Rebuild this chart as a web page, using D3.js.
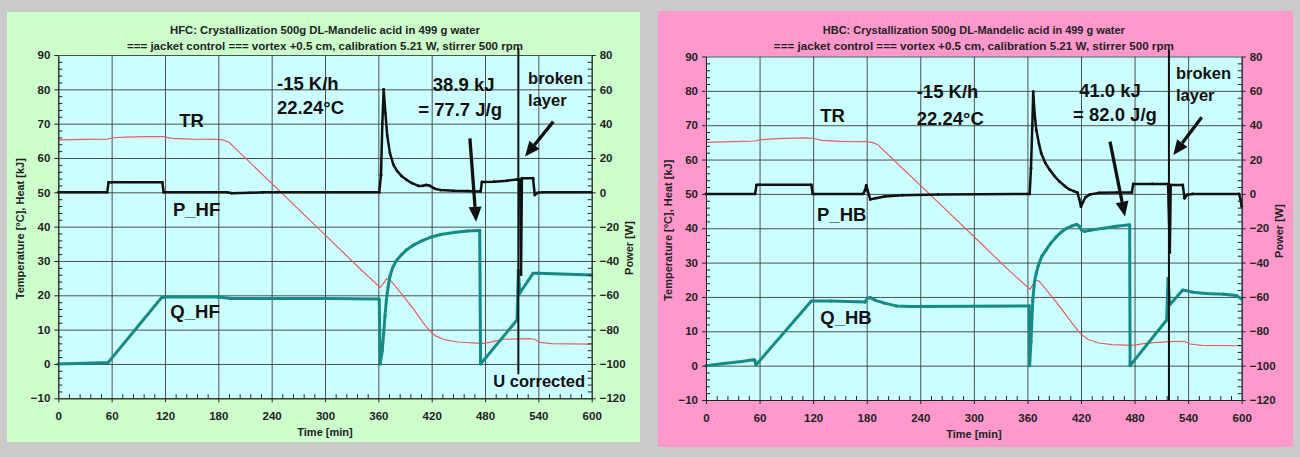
<!DOCTYPE html>
<html>
<head>
<meta charset="utf-8">
<script src="https://cdn.jsdelivr.net/npm/d3@7"></script>
<style>
  html, body { margin: 0; padding: 0; background: #cacaca; }
  svg { display: block; }
</style>
</head>
<body>
<svg id="chart" width="1300" height="457"></svg>
<script>
// ---- axis ticks ----
const timeTicks  = [0, 60, 120, 180, 240, 300, 360, 420, 480, 540, 600];
const tempTicks  = [-10, 0, 10, 20, 30, 40, 50, 60, 70, 80, 90];
const powerTicks = [-120, -100, -80, -60, -40, -20, 0, 20, 40, 60, 80];

// ---- HFC run: [time min, value] ----
const trHF = [[0,65.3],[30,65.4],[55,65.5],[62,65.9],[75,66.1],[100,66.2],[118,66.2],[128,65.7],[150,65.5],
  [180,65.4],[186,65.2],[192,64.6],[200,62.6],[252,49.6],[300,37.6],[340,27.6],[362,22.3],[365,23.2],
  [369,24.8],[373,24.5],[380,22.4],[390,19.2],[400,15.8],[410,12.2],[418,9.6],[425,8.1],[435,7.0],
  [450,6.4],[470,6.1],[480,6.0],[490,6.6],[500,7.2],[530,7.4],[536,7.2],[542,6.3],[555,5.9],[600,5.8]];
const pHF = [[0,0],[55,0],[56.5,5.8],[60,5.8],[117,5.8],[118.5,0],[190,0],[195,-0.5],[215,-0.3],[230,0],
  [361,0],[363,10],[364.5,40],[366,60],[368,46],[370,33],[373,23],[377,16],[381,12.5],[386,9.5],[392,7.2],
  [398,5.3],[405,3.7],[410,3.8],[414,4.3],[418,3.8],[424,2],[430,1.3],[445,0.9],[460,0.7],[475,0.5],
  [476.5,6],[490,6.2],[505,6.8],[516,7.4],[519.5,7.4],[520.5,-48],[521.5,8.2],[534,8.2],[536,-1.6],
  [539,-0.3],[545,0],[600,0]];
const qHF = [[0,0],[30,0.2],[56,0.4],[116,19.3],[120,19.5],[180,19.5],[195,19.1],[300,19.1],[361,18.9],
  [362,0],[364.5,4],[366,9],[367.5,14],[369,18.5],[371,22.5],[373,25.5],[376,28],[380,30],[386,31.8],
  [392,33.3],[400,34.7],[410,36],[420,37],[430,37.7],[445,38.3],[460,38.7],[474,38.9],[475,0],
  [516,12.8],[517.5,27.3],[519,20.6],[534,26.4],[540,26.4],[600,25.9]];

// ---- HBC run: [time min, value] ----
const trHB = [[0,65.0],[30,65.2],[55,65.4],[62,65.8],[80,66.1],[110,66.3],[120,66.2],[130,65.6],[150,65.3],
  [180,65.2],[186,65.0],[192,64.4],[200,62.4],[251,49.8],[300,37.6],[340,27.6],[363,22.2],[366,23.5],
  [369,24.9],[373,24.6],[380,22.4],[390,19.3],[400,15.9],[410,12.4],[419,9.4],[428,7.6],[440,6.6],
  [455,6.1],[470,6.0],[480,6.0],[490,6.4],[505,6.8],[520,7.0],[536,7.1],[542,6.3],[555,5.9],[600,5.8]];
const pHB = [[0,0],[55,0],[56.5,5.2],[60,5.3],[118,5.3],[119.5,0],[176,0],[178,2],[179.5,5],[181,2],
  [184,-3.2],[190,-2.5],[200,-1.5],[220,-0.8],[260,-0.3],[362.5,0],[364,15],[365.5,40],[366.5,59.5],
  [368,47],[370,37],[373,29],[375.5,23.6],[380,18],[385,14],[390,10.5],[396,7.2],[402,4.5],[407,2.6],
  [412,1.6],[416,0.8],[418,-3],[420,-7.5],[422,-5],[425,-2],[430,-0.3],[440,0.6],[460,0.8],[477,0.8],
  [478.5,5.8],[500,5.8],[517.5,5.8],[519.5,-34],[520.5,5.2],[534,5.2],[536,-2.6],[539,-0.5],[545,0],
  [597,0],[598.5,-3],[600,-7.4]];
const qHB = [[0,0],[20,0.6],[40,1.2],[53,1.7],[54.5,1.6],[56,0.2],[118,18.8],[140,18.8],[170,18.6],
  [178,18.5],[181,19.7],[184,19.8],[190,19.0],[200,18.2],[213,17.4],[230,17.2],[300,17.3],[362,17.4],
  [362.5,0],[364,7],[366,19],[368,24.5],[370,27],[372,29],[376,31.8],[381,33.7],[386,35.6],[392,37.4],
  [398,38.9],[404,40.0],[410,40.7],[415,41.1],[418,40.6],[421,39.4],[424,39.1],[430,39.4],[445,40.0],
  [460,40.6],[474.5,41.0],[475,0],[516,13.3],[517.5,25.4],[519.5,17.7],[534,22.0],[545,21.4],[560,21.0],
  [580,20.8],[594,20.4],[600,19.4]];

const FONT = '"Liberation Sans", Arial, Helvetica, sans-serif';

// Panel layouts; annotation anchors are given in data units [time, °C/kJ]
const panels = [
  {
    bg: '#ccffcc', box: [7, 12, 640, 442], plot: [58.3, 55, 591.7, 398.3],
    title: ['HFC: Crystallization 500g DL-Mandelic acid  in 499 g water',
            '=== jacket control === vortex +0.5 cm, calibration 5.21 W, stirrer 500 rpm'],
    titleWidth: [310, 396],
    tr: trHF, p: pHF, q: qHF,
    powerLabelY: 248,
    labels: [
      {t: 150, v: 70.8, text: 'TR', size: 18.5, anchor: 'middle'},
      {t: 155.5, v: 44.9, text: 'P_HF', size: 18.5, anchor: 'middle'},
      {t: 153.8, v: 15.4, text: 'Q_HF', size: 18.5, anchor: 'middle'},
      {t: 246, v: 81.8, text: '-15 K/h', size: 18.5, anchor: 'start'},
      {t: 246, v: 74.6, text: '22.24°C', size: 18.5, anchor: 'start'},
      {t: 456, v: 81.3, text: '38.9 kJ', size: 18.5, anchor: 'middle'},
      {t: 452, v: 74.0, text: '= 77.7 J/g', size: 18.5, anchor: 'middle'},
      {t: 528.4, v: 83.2, text: 'broken', size: 16.5, anchor: 'start'},
      {t: 528.4, v: 76.9, text: 'layer', size: 16.5, anchor: 'start'},
      {t: 489.3, v: -4.9, text: 'U corrected', size: 16.5, anchor: 'start'}
    ],
    arrows: [
      {from: [463, 65.7], to: [470, 41.4]},
      {from: [556.8, 70.6], to: [525, 60.4]}
    ],
    marker: {t: 517.5, vEnd: -3}
  },
  {
    bg: '#ff99cc', box: [658, 11, 1293, 447], plot: [706, 56.5, 1241.7, 400],
    title: ['HBC: Crystallization 500g DL-Mandelic acid in 499 g water',
            '=== jacket control ===  vortex +0.5 cm, calibration 5.21 W, stirrer 500 rpm'],
    titleWidth: [302, 400],
    tr: trHB, p: pHB, q: qHB,
    powerLabelY: 231,
    labels: [
      {t: 141.7, v: 72.7, text: 'TR', size: 18.5, anchor: 'middle'},
      {t: 152, v: 43.9, text: 'P_HB', size: 18.5, anchor: 'middle'},
      {t: 156.8, v: 14.0, text: 'Q_HB', size: 18.5, anchor: 'middle'},
      {t: 236, v: 79.75, text: '-15 K/h', size: 18.5, anchor: 'start'},
      {t: 236, v: 72.0, text: '22.24°C', size: 18.5, anchor: 'start'},
      {t: 452.5, v: 80.2, text: '41.0 kJ', size: 18.5, anchor: 'middle'},
      {t: 458, v: 73.0, text: '= 82.0 J/g', size: 18.5, anchor: 'middle'},
      {t: 526.4, v: 85.1, text: 'broken', size: 16.5, anchor: 'start'},
      {t: 526.4, v: 78.8, text: 'layer', size: 16.5, anchor: 'start'}
    ],
    arrows: [
      {from: [452.5, 65.2], to: [469.3, 43.4]},
      {from: [555.2, 72.3], to: [523.4, 61.3]}
    ],
    marker: {t: 518.5, vEnd: -10}
  }
];

const svg = d3.select('#chart');

function styleAxisText(sel) {
  sel.selectAll('text')
    .attr('font-family', FONT).attr('font-weight', 'bold')
    .attr('font-size', 11.5).attr('fill', '#222');
}

function drawPanel(pn) {
  const g = svg.append('g');
  const [L, T, R, B] = pn.plot;
  const [bx0, by0, bx1, by1] = pn.box;

  g.append('rect').attr('x', bx0).attr('y', by0)
    .attr('width', bx1 - bx0).attr('height', by1 - by0).attr('fill', pn.bg);

  const x = d3.scaleLinear().domain([0, 600]).range([L, R]);
  const y = d3.scaleLinear().domain([-10, 90]).range([B, T]);
  const yP = d3.scaleLinear().domain([-120, 80]).range([B, T]);

  g.append('rect').attr('x', L).attr('y', T)
    .attr('width', R - L).attr('height', B - T).attr('fill', '#ccffff');

  // grid
  g.append('g').attr('transform', `translate(0,${B})`)
    .call(d3.axisBottom(x).tickValues(timeTicks).tickSize(-(B - T)).tickFormat(''))
    .call(s => { s.select('.domain').remove();
      s.selectAll('line').attr('stroke', '#3c3c3c').attr('stroke-width', 0.9); });
  g.append('g').attr('transform', `translate(${L},0)`)
    .call(d3.axisLeft(y).tickValues(tempTicks).tickSize(-(R - L)).tickFormat(''))
    .call(s => { s.select('.domain').remove();
      s.selectAll('line').attr('stroke', '#3c3c3c').attr('stroke-width', 0.9); });

  // titles
  const cx = (L + R) / 2;
  [34, 50].forEach((ty, i) => {
    g.append('text').attr('x', cx).attr('y', ty).attr('text-anchor', 'middle')
      .attr('font-family', FONT).attr('font-weight', 'bold').attr('font-size', 10.5)
      .attr('textLength', pn.titleWidth[i]).attr('lengthAdjust', 'spacingAndGlyphs')
      .attr('fill', '#222').text(pn.title[i]);
  });

  // series
  const lineL = d3.line().x(d => x(d[0])).y(d => y(d[1]));
  const lineP = d3.line().x(d => x(d[0])).y(d => yP(d[1]));

  g.append('path').datum(pn.tr).attr('d', lineL)
    .attr('fill', 'none').attr('stroke', '#e4605c').attr('stroke-width', 1.2);

  g.append('path').datum(pn.q).attr('d', lineL)
    .attr('fill', 'none').attr('stroke', '#178a86').attr('stroke-width', 3)
    .attr('stroke-linejoin', 'round');
  g.append('g').selectAll('circle').data(pn.q).join('circle')
    .attr('cx', d => x(d[0])).attr('cy', d => y(d[1])).attr('r', 1.6).attr('fill', '#178a86');

  g.append('path').datum(pn.p).attr('d', lineP)
    .attr('fill', 'none').attr('stroke', '#111').attr('stroke-width', 2.5)
    .attr('stroke-linejoin', 'round');
  g.append('g').selectAll('circle').data(pn.p).join('circle')
    .attr('cx', d => x(d[0])).attr('cy', d => yP(d[1])).attr('r', 1.4).attr('fill', '#111');

  // event marker line
  g.append('line')
    .attr('x1', x(pn.marker.t)).attr('x2', x(pn.marker.t))
    .attr('y1', T - 7).attr('y2', y(pn.marker.vEnd))
    .attr('stroke', '#111').attr('stroke-width', 2);

  // axes: major ticks outward, minor ticks inward
  const ax = g.append('g').attr('transform', `translate(0,${B})`)
    .call(d3.axisBottom(x).tickValues(timeTicks).tickSize(4).tickSizeOuter(0).tickPadding(9.5));
  ax.selectAll('line').attr('stroke', '#222');
  ax.select('.domain').attr('stroke', '#222');
  styleAxisText(ax);
  g.append('g').attr('transform', `translate(0,${B})`)
    .call(d3.axisBottom(x).tickValues(d3.range(12, 600, 12).filter(v => v % 60)).tickSize(-4).tickFormat(''))
    .call(s => { s.select('.domain').remove(); s.selectAll('line').attr('stroke', '#222'); });

  const ay = g.append('g').attr('transform', `translate(${L},0)`)
    .call(d3.axisLeft(y).tickValues(tempTicks).tickSize(4).tickSizeOuter(0).tickPadding(4));
  ay.selectAll('line').attr('stroke', '#222');
  ay.select('.domain').attr('stroke', '#222');
  styleAxisText(ay);
  g.append('g').attr('transform', `translate(${L},0)`)
    .call(d3.axisLeft(y).tickValues(d3.range(-8, 90, 2).filter(v => v % 10)).tickSize(-4).tickFormat(''))
    .call(s => { s.select('.domain').remove(); s.selectAll('line').attr('stroke', '#222'); });

  const ar = g.append('g').attr('transform', `translate(${R},0)`)
    .call(d3.axisRight(yP).tickValues(powerTicks).tickSize(4).tickSizeOuter(0).tickPadding(4));
  ar.selectAll('line').attr('stroke', '#222');
  ar.select('.domain').attr('stroke', '#222');
  styleAxisText(ar);
  g.append('g').attr('transform', `translate(${R},0)`)
    .call(d3.axisRight(yP).tickValues(d3.range(-116, 80, 4).filter(v => v % 20)).tickSize(-4).tickFormat(''))
    .call(s => { s.select('.domain').remove(); s.selectAll('line').attr('stroke', '#222'); });

  // axis titles
  g.append('text').attr('x', cx).attr('y', B + 38).attr('text-anchor', 'middle')
    .attr('font-family', FONT).attr('font-weight', 'bold').attr('font-size', 11)
    .attr('fill', '#222').text('Time [min]');
  const lx = L - 38, ly = (T + B) / 2 + 2;
  g.append('text').attr('transform', `translate(${lx},${ly}) rotate(-90)`)
    .attr('text-anchor', 'middle').attr('dy', '0.35em')
    .attr('font-family', FONT).attr('font-weight', 'bold').attr('font-size', 11)
    .attr('fill', '#222').text('Temperature [°C], Heat [kJ]');
  g.append('text').attr('transform', `translate(${R + 37},${pn.powerLabelY}) rotate(-90)`)
    .attr('text-anchor', 'middle').attr('dy', '0.35em')
    .attr('font-family', FONT).attr('font-weight', 'bold').attr('font-size', 11)
    .attr('fill', '#222').text('Power [W]');

  // annotations
  pn.labels.forEach(l => {
    g.append('text').attr('x', x(l.t)).attr('y', y(l.v)).attr('dy', '0.35em')
      .attr('text-anchor', l.anchor)
      .attr('font-family', FONT).attr('font-weight', 'bold').attr('font-size', l.size)
      .attr('fill', '#111').text(l.text);
  });

  pn.arrows.forEach(a => {
    const x0 = x(a.from[0]), y0 = y(a.from[1]);
    const x1 = x(a.to[0]), y1 = y(a.to[1]);
    const len = Math.hypot(x1 - x0, y1 - y0);
    const ux = (x1 - x0) / len, uy = (y1 - y0) / len;
    const hl = 15, hw = 6.5;
    const bxp = x1 - ux * hl, byp = y1 - uy * hl;
    g.append('line').attr('x1', x0).attr('y1', y0).attr('x2', bxp).attr('y2', byp)
      .attr('stroke', '#111').attr('stroke-width', 3.3);
    g.append('path')
      .attr('d', `M${x1},${y1}L${bxp - uy * hw},${byp + ux * hw}L${bxp + uy * hw},${byp - ux * hw}Z`)
      .attr('fill', '#111');
  });
}

panels.forEach(drawPanel);
</script>
</body>
</html>
